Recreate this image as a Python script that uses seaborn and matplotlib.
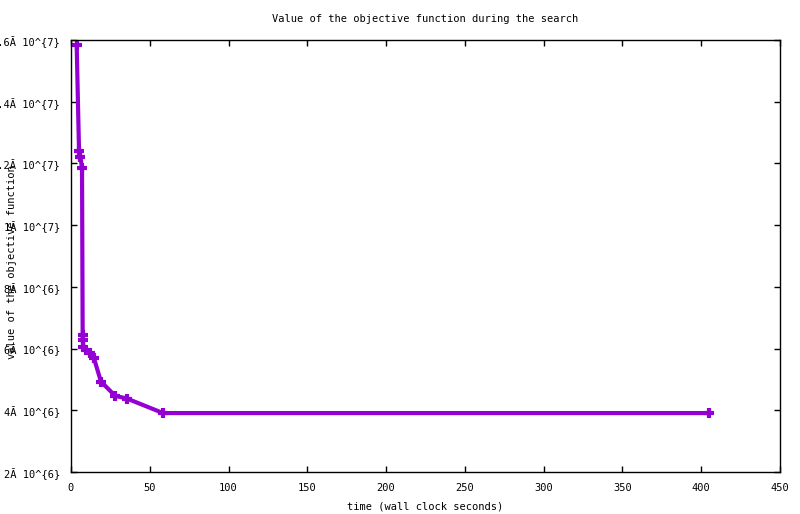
import matplotlib
matplotlib.use("Agg")
import matplotlib.pyplot as plt
import seaborn as sns
import pandas as pd

# data
time_s = [3.6, 5.1, 6.0, 7.0, 7.4, 7.4, 7.9, 9.5, 12.0, 14.5,
          19.0, 28.0, 35.5, 58.4, 405.0]
objective = [15.85e6, 12.40e6, 12.20e6, 11.85e6, 6.44e6, 6.28e6, 6.06e6,
             5.95e6, 5.85e6, 5.70e6, 4.93e6, 4.47e6, 4.38e6, 3.91e6, 3.91e6]
x_ticks = [0, 50, 100, 150, 200, 250, 300, 350, 400, 450]
y_ticks = [2e6, 4e6, 6e6, 8e6, 10e6, 12e6, 14e6, 16e6]
y_tick_labels = ["2Ă 10^{6}", "4Ă 10^{6}", "6Ă 10^{6}", "8Ă 10^{6}",
                 "1Ă 10^{7}", "1.2Ă 10^{7}", "1.4Ă 10^{7}", "1.6Ă 10^{7}"]

title = "Value of the objective function during the search"
xlabel = "time (wall clock seconds)"
ylabel = "value of the objective function"

sns.set_style("white")
plt.rcParams['font.family'] = ['DejaVu Sans Mono', 'DejaVu Sans']
plt.rcParams['font.size'] = 7.5
plt.rcParams['text.color'] = 'black'
plt.rcParams['axes.labelcolor'] = 'black'

df = pd.DataFrame({"t": time_s, "v": objective})

fig = plt.figure(figsize=(8, 5.14), dpi=100)
ax = fig.add_axes([71/800, 42/514, 709/800, 432/514])

sns.lineplot(data=df, x="t", y="v", sort=False, estimator=None, ax=ax,
             color="#9400D3", linewidth=3, marker="+", markersize=7.5,
             markeredgewidth=3, markeredgecolor="#9400D3")

ax.set_xlim(0, 450)
ax.set_ylim(2e6, 16e6)
ax.set_xticks(x_ticks)
ax.set_xticklabels([str(v) for v in x_ticks])
ax.set_yticks(y_ticks)
ax.set_yticklabels(y_tick_labels)
ax.tick_params(direction="in", length=4.5, width=1, top=True, right=True,
               bottom=True, left=True, labelsize=7.5, colors="black", pad=8)
for s in ax.spines.values():
    s.set_visible(True)
    s.set_color("black")
    s.set_linewidth(1)

ax.set_xlabel(xlabel, fontsize=7.5, labelpad=6, color="black")
ax.set_ylabel("")
fig.text(12/800, 1 - 262/514, ylabel, rotation=90, ha="center", va="center",
         fontsize=7.5, color="black")
fig.text(425/800, 1 - 19/514, title, ha="center", va="center", fontsize=7.5,
         color="black")

fig.savefig("out.png", dpi=100)
